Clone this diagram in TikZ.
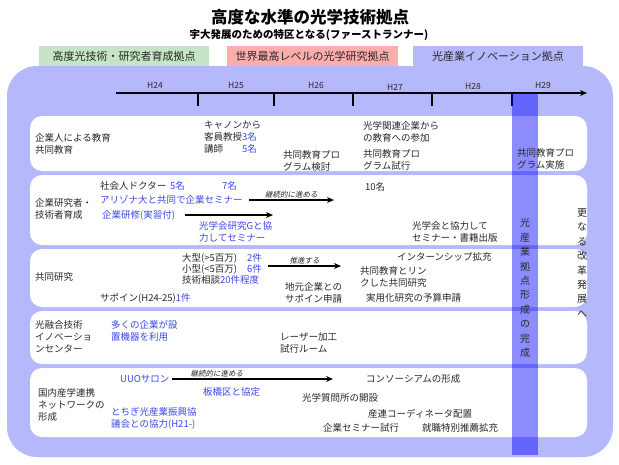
\documentclass[tikz,border=0pt]{standalone}
\usepackage{fontspec}
\setmainfont{Noto Sans CJK JP}
\newfontfamily\slantcjk[FakeSlant=0.2]{Noto Sans CJK JP}
\usetikzlibrary{arrows.meta}
\definecolor{panel}{RGB}{182,184,252}
\definecolor{tabgreen}{RGB}{198,228,198}
\definecolor{tabpink}{RGB}{255,172,172}
\definecolor{hiblue}{RGB}{60,72,230}
\definecolor{ink}{RGB}{40,40,40}
\newcommand{\blu}[1]{\textcolor{hiblue}{#1}}
\begin{document}
\begin{tikzpicture}[x=1pt, y=-1pt,
	txt/.style={anchor=west, inner sep=0pt, align=left, text=ink, font=\fontsize{9.5}{12}\selectfont},
	tab/.style={inner sep=0pt, minimum height=20pt, text=ink, font=\fontsize{11}{13}\selectfont},
	yr/.style={inner sep=0pt, text=ink, font=\fontsize{8.5}{10}\selectfont},
	note/.style={inner sep=1pt, text=ink, font=\slantcjk\fontsize{7.5}{9}\selectfont},
	flow/.style={line width=1.4pt, -{Stealth[length=7pt, width=6pt]}},
	row/.style={fill=white, rounded corners=12pt},
	vert/.style={inner sep=0pt, align=center, text=ink, font=\fontsize{10}{14.4}\selectfont}]
	\useasboundingbox (0,0) rectangle (619,464);
	% title
	\node[inner sep=0pt, font=\bfseries\fontsize{16.5}{18}\selectfont] (title) at (310,17) {高度な水準の光学技術拠点};
	\node[inner sep=0pt, font=\bfseries\fontsize{10.5}{12}\selectfont] (subtitle) at (309,35) {宇大発展のための特区となる(ファーストランナー)};
	% tabs and panel
	\fill[panel, rounded corners=30pt] (7,66) rectangle (613,457);
	\node[tab, fill=tabgreen, minimum width=170pt] (tabA) at (124,56) {高度光技術・研究者育成拠点};
	\node[tab, fill=tabpink, minimum width=171pt] (tabB) at (312.5,56) {世界最高レベルの光学研究拠点};
	\node[tab, fill=panel, minimum width=170pt, minimum height=21pt] (tabC) at (498,56.5) {光産業イノベーション拠点};
	% time line
	\coordinate (t0) at (116,93);
	\coordinate (t1) at (587,93);
	\draw[flow, line width=1.2pt] (t0) -- (t1);
	\foreach \x in {198,274,353,432,512}
		\draw[line width=1.2pt] (\x,93) -- (\x,106);
	\foreach \x/\yr/\y in {155/H24/85, 236/H25/85, 316/H26/85, 395/H27/87, 473/H28/86, 543/H29/85}
		\node[yr] (\yr) at (\x,\y) {\yr};
	% rows
	\foreach \top/\bot in {116/171, 175/245, 249/307, 311/364, 368/437}
		\fill[row] (30,\top) rectangle (587,\bot);
	\fill[blue, opacity=.45] (512,93) rectangle (538,455);
	% row 1
	\node[txt] (r1a) at (35,144) {企業人による教育\\共同教育};
	\node[txt] (r1b) at (204,137) {キャノンから\\客員教授\blu{3名}\\講師\hspace{19pt}\blu{5名}};
	\node[txt] (r1c) at (283,161) {共同教育プロ\\グラム検討};
	\node[txt] (r1d) at (363,132) {光学関連企業から\\の教育への参加};
	\node[txt] (r1e) at (363,160) {共同教育プロ\\グラム試行};
	\node[txt] (r1f) at (517,159) {共同教育プロ\\グラム実施};
	% row 2
	\node[txt] (r2a) at (35,209) {企業研究者・\\技術者育成};
	\node[txt] (r2b) at (100,186) {社会人ドクター};
	\node[txt, text=hiblue] (r2c) at (170,186) {5名};
	\node[txt, text=hiblue] (r2d) at (222,186) {7名};
	\node[txt, text=hiblue] (r2e) at (100,200) {アリゾナ大と共同で企業セミナー};
	\node[txt, text=hiblue] (r2f) at (102,215) {企業研修(実習付)};
	\coordinate (r2eEnd) at (334,200);
	\coordinate (r2fEnd) at (273,215);
	\draw[flow] ([xshift=6pt]r2e.east) -- node[note, above] {継続的に進める} (r2eEnd);
	\draw[flow] ([xshift=10pt]r2f.east) -- (r2fEnd);
	\node[txt, text=hiblue] (r2g) at (199,232) {光学会研究Gと協\\力してセミナー};
	\node[txt] (r2h) at (365,187) {10名};
	\node[txt] (r2i) at (412,232) {光学会と協力して\\セミナー・書籍出版};
	% row 3
	\node[txt] (r3a) at (35,277) {共同研究};
	\node[txt, font=\fontsize{9.5}{11}\selectfont] (r3b) at (182,269) {\makebox[65pt][l]{大型(>5百万)}\blu{2件}\\\makebox[65pt][l]{小型(<5百万)}\blu{6件}\\技術相談\blu{20件程度}};
	\node[txt] (r3c) at (100,298) {サポイン(H24-25)\blu{1件}};
	\coordinate (r3s) at (268,266);
	\coordinate (r3t) at (341,266);
	\draw[flow] (r3s) -- node[note, above] {推進する} (r3t);
	\node[txt] (r3d) at (285,293) {地元企業との\\サポイン申請};
	\node[txt] (r3e) at (397,257) {インターンシップ拡充};
	\node[txt] (r3f) at (360,277) {共同教育とリン\\クした共同研究};
	\node[txt] (r3g) at (366,298) {実用化研究の予算申請};
	% row 4
	\node[txt] (r4a) at (35,337) {光融合技術\\イノベーショ\\ンセンター};
	\node[txt, text=hiblue] (r4b) at (111,331) {多くの企業が設\\置機器を利用};
	\node[txt] (r4c) at (280,343) {レーザー加工\\試行ルーム};
	% row 5
	\node[txt] (r5a) at (38,405) {国内産学連携\\ネットワークの\\形成};
	\node[txt, text=hiblue] (r5b) at (120,379) {UUOサロン};
	\coordinate (r5t) at (333,379);
	\draw[flow] ([xshift=2pt]r5b.east) -- node[note, above, pos=.28] {継続的に進める} (r5t);
	\node[txt, text=hiblue] (r5c) at (203,392) {板橋区と協定};
	\node[txt, text=hiblue] (r5d) at (111,418) {とちぎ光産業振興協\\議会との協力(H21-)};
	\node[txt] (r5e) at (366,379) {コンソーシアムの形成};
	\node[txt] (r5f) at (302,398) {光学質問所の開設};
	\node[txt] (r5g) at (368,414) {産連コーディネータ配置};
	\node[txt] (r5h) at (323,428) {企業セミナー試行};
	\node[txt] (r5i) at (422,428) {就職特別推薦拡充};
	% vertical texts
	\node[vert] (goal) at (525,288) {光\\産\\業\\拠\\点\\形\\成\\の\\完\\成};
	\node[vert] (next) at (582,263) {更\\な\\る\\改\\革\\発\\展\\へ};
\end{tikzpicture}
\end{document}
